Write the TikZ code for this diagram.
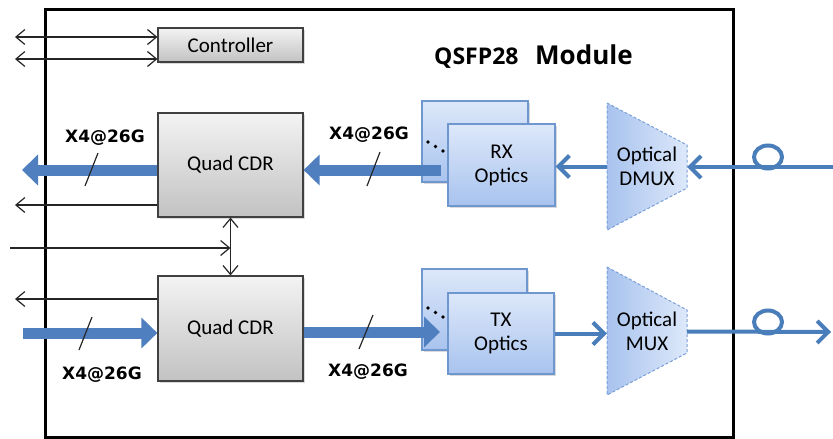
\documentclass[tikz,border=0pt]{standalone}
\usepackage{fontspec}
\setmainfont{Carlito}
\newfontfamily\ratefont{DejaVu Sans}
\newfontfamily\titlefont{Open Sans}
\usepackage{tikz}
\usetikzlibrary{arrows.meta,shadows}

\definecolor{grayTop}{HTML}{F3F3F3}
\definecolor{grayBot}{HTML}{C2C2C2}
\definecolor{optTop}{HTML}{DDE8FA}
\definecolor{optBot}{HTML}{A8C3EE}
\definecolor{optLine}{HTML}{6E96CF}
\definecolor{muxLine}{HTML}{7A9FD8}
\definecolor{laneBlue}{HTML}{4F7FBE}
\definecolor{fiberBlue}{HTML}{4A7EBB}

\begin{document}
\begin{tikzpicture}[x=1pt, y=-1pt,
  >={Straight Barb[length=9pt,width=15pt]},
  graybox/.style={draw=black!75, line width=1.2, top color=grayTop, bottom color=grayBot,
    drop shadow={opacity=0.3, shadow xshift=2pt, shadow yshift=-2pt},
    font=\fontsize{21}{24}\selectfont, align=center, inner sep=0},
  optbox/.style={draw=optLine, line width=1.2, top color=optTop, bottom color=optBot,
    drop shadow={opacity=0.3, shadow xshift=2pt, shadow yshift=-2pt},
    font=\fontsize{21}{24}\selectfont, align=center, inner sep=0},
  muxshape/.style={draw=muxLine, line width=1, dash pattern=on 3pt off 2pt,
    left color=optBot, right color=optTop},
  muxtext/.style={font=\fontsize{21}{24}\selectfont, align=center, inner sep=0,
    minimum width=80, minimum height=43},
  lane/.style={line width=11, laneBlue, -{Triangle[length=16pt,width=30pt]}},
  sig/.style={line width=1.2, black!85},
  fiber/.style={line width=4, fiberBlue},
  fibarrow/.style={fiber, -{Straight Barb[length=11pt,width=22pt]}},
  rate/.style={font=\ratefont\bfseries\fontsize{17}{20}\selectfont, inner sep=0},
  tick/.style={line width=1.2, black!85}
]
\useasboundingbox (0,0) rectangle (833,439);

% Module outline
\draw[line width=3] (45,9) rectangle (733,437);
\node[anchor=base west, inner sep=0, font=\titlefont\bfseries\fontsize{23}{26}\selectfont] (qsfp) at (434,64) {QSFP28};
\node[anchor=base west, inner sep=0, font=\titlefont\bfseries\fontsize{26}{30}\selectfont] (modname) at (535,64) {Module};

% Boxes
\node[graybox, minimum width=145, minimum height=34] (ctrl) at (230.5,45) {Controller};
\node[graybox, minimum width=145, minimum height=104] (cdrA) at (230.5,165) {Quad CDR};
\node[graybox, minimum width=145, minimum height=105] (cdrB) at (230.5,328.5) {Quad CDR};
\node[optbox, minimum width=106, minimum height=81] (rxback) at (475,141.5) {};
\node[optbox, minimum width=105, minimum height=81] (txback) at (474.5,309.5) {};
\foreach \dx/\dy in {0/0, 7.5/4.5, 15/9} {
  \fill (428+\dx,142+\dy) circle (1.8pt);
  \fill (428+\dx,308+\dy) circle (1.8pt);
}

% Lanes
\coordinate (hostout) at (22,170);
\coordinate (hostin) at (23,333);
\coordinate (rxin) at (441,170);
\coordinate (txin) at (440,332);
\draw[lane] (hostout -| cdrA.west) -- (hostout);
\draw[lane] (rxin) -- (rxin -| cdrA.east);
\draw[lane] (hostin) -- (hostin -| cdrB.west);
\draw[lane] (txin -| cdrB.east) -- (txin);
\draw[tick] (98,153) -- (85,186);
\draw[tick] (380,152) -- (367,186);
\draw[tick] (92,317) -- (79,350);
\draw[tick] (373,315) -- (359,349);
\node[rate] (rateA) at (105,138) {X4@26G};
\node[rate] (rateB) at (369,135) {X4@26G};
\node[rate] (rateC) at (102,375) {X4@26G};
\node[rate] (rateD) at (368,372) {X4@26G};

\node[optbox, minimum width=107, minimum height=82] (rx) at (501.5,165) {RX\\Optics};
\node[optbox, minimum width=106, minimum height=81] (tx) at (501,333.5) {TX\\Optics};

% Mux / Demux
\draw[muxshape] (607,103) -- (687,145) -- (687,188) -- (607,230) -- cycle;
\draw[muxshape] (607,267) -- (687,310) -- (687,353) -- (607,395) -- cycle;
\node[muxtext] (dmux) at (647,166.5) {Optical\\DMUX};
\node[muxtext] (mux) at (647,331.5) {Optical\\MUX};

% Control and status lines
\coordinate (k1) at (15,37);
\coordinate (k2) at (15,59);
\coordinate (s1) at (15,205);
\coordinate (s2) at (10,248);
\coordinate (s3) at (15,299);
\draw[sig, <->] (k1) -- (k1 -| ctrl.west);
\draw[sig, <->] (k2) -- (k2 -| ctrl.west);
\draw[sig, ->] (s1 -| cdrA.west) -- (s1);
\draw[sig, ->] (s2) -- (s2 -| cdrA.south);
\draw[sig, <->] (cdrA.south) -- (cdrB.north);
\draw[sig, ->] (s3 -| cdrB.west) -- (s3);

% Optical side
\coordinate (fibin) at (833,167);
\coordinate (fibout) at (831,332);
\draw[fibarrow] (dmux.west) -- (dmux.west -| rx.east);
\draw[fibarrow] (fibin) -- (fibin -| dmux.east);
\draw[fibarrow] (tx.east) -- (tx.east -| mux.west);
\draw[fibarrow] (mux.east) -- (fibout);
\draw[fiber] (768,157) ellipse [x radius=14pt, y radius=11.5pt];
\draw[fiber] (768,322) ellipse [x radius=14pt, y radius=11.5pt];
\end{tikzpicture}
\end{document}
